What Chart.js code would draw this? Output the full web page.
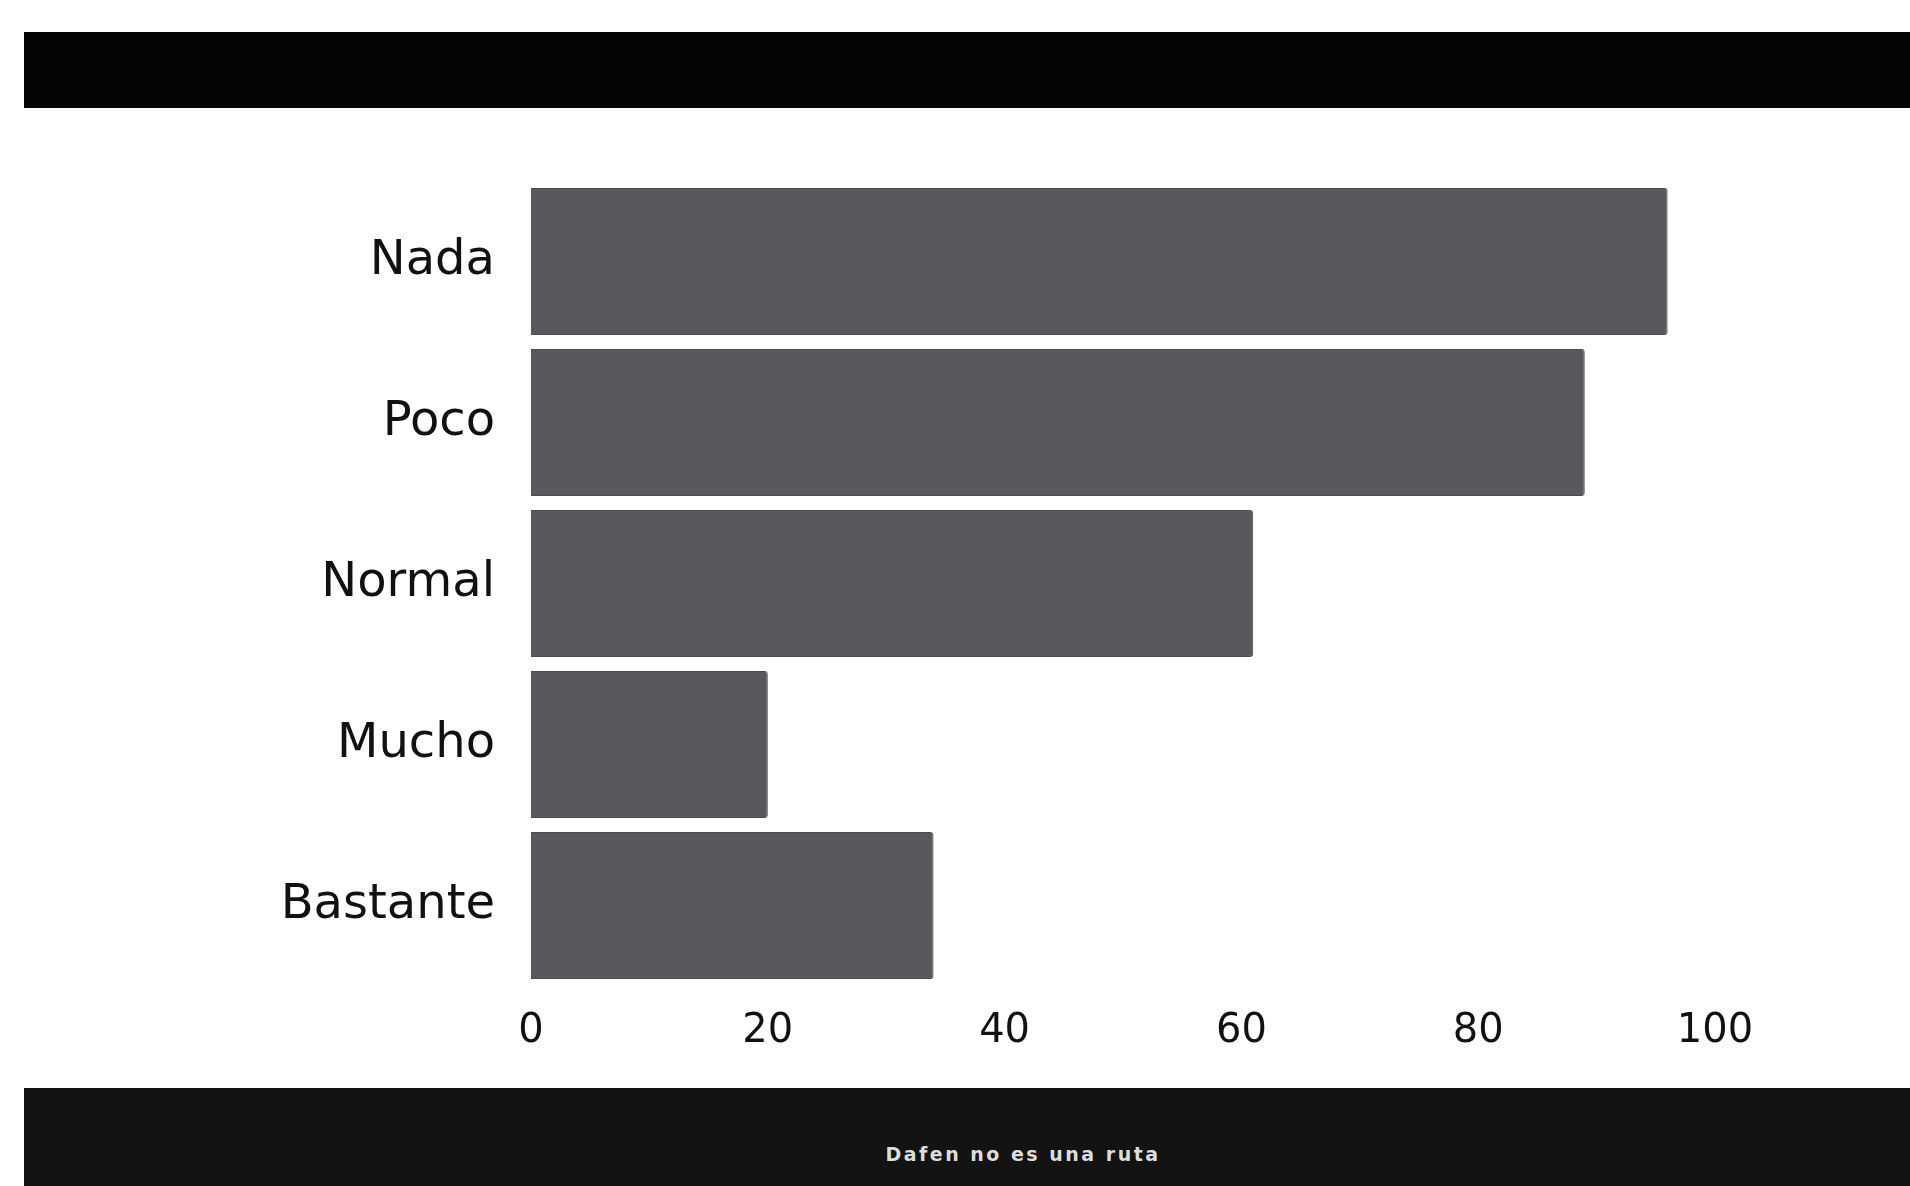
<!DOCTYPE html>
<html>
<head>
<meta charset="utf-8">
<script src="https://cdn.jsdelivr.net/npm/chart.js@4"></script>
<style>
  body { margin:0; width:1910px; height:1186px; background:#fff; overflow:hidden; position:relative; font-family:"DejaVu Sans", sans-serif; }
  #topbar { position:absolute; left:24px; top:32px; width:1886px; height:76px; background:#050505; }
  #footer { position:absolute; left:24px; top:1088px; width:1886px; height:98px; background:#131313; }
  #footer span { position:absolute; left:0; width:1998px; top:55px; text-align:center; color:#ddd; font-size:19px; font-weight:bold; letter-spacing:2.5px; }
  #wrap { position:absolute; left:0; top:108px; width:1910px; height:980px; }
</style>
</head>
<body>
<div id="topbar"></div>
<div id="wrap"><canvas id="myChart"></canvas></div>
<div id="footer"><span>Dafen no es una ruta</span></div>
<script>
const categories = ['Nada', 'Poco', 'Normal', 'Mucho', 'Bastante'];
const values = [96, 89, 61, 20, 34];
const xTicks = [0, 20, 40, 60, 80, 100];

const ctx = document.getElementById('myChart');

let myChart = new Chart(ctx, {
  type: 'bar',
  data: {
    labels: categories,
    datasets: [{
      data: values,
      backgroundColor: '#58585d',
      borderColor: '#4a4a4f',
      borderWidth: 1,
      borderRadius: 3,
      barPercentage: 0.95,
      categoryPercentage: 0.96
    }]
  },
  options: {
    indexAxis: 'y',
    responsive: true,
    maintainAspectRatio: false,
    animation: false,
    layout: {
      padding: { top: 73, right: 195, bottom: 18, left: 0 }
    },
    plugins: {
      legend: { display: false },
      tooltip: { enabled: false }
    },
    scales: {
      x: {
        min: 0,
        max: 100,
        afterBuildTicks: (s) => { s.ticks = xTicks.map(v => ({ value: v })); },
        grid: { display: false },
        border: { display: false },
        ticks: {
          padding: 14,
          color: '#111',
          font: { family: 'DejaVu Sans', size: 40 }
        }
      },
      y: {
        grid: { display: false },
        border: { display: false },
        afterFit: (s) => { s.width = 531; },
        ticks: {
          padding: 28,
          color: '#111',
          font: { family: 'DejaVu Sans', size: 48 }
        }
      }
    }
  }
});
</script>
</body>
</html>
